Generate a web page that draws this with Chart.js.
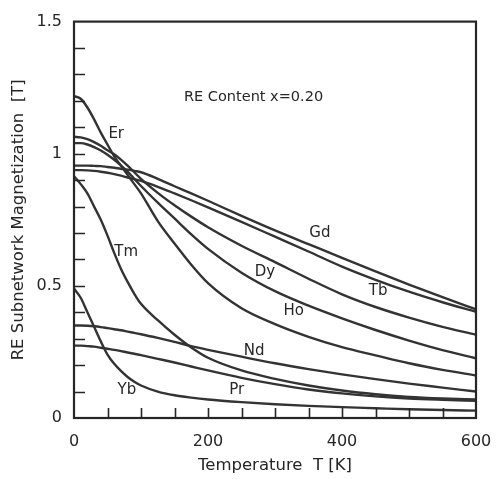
<!DOCTYPE html>
<html>
<head>
<meta charset="utf-8">
<script src="https://cdn.jsdelivr.net/npm/chart.js@4.4.0/dist/chart.umd.min.js"></script>
<style>
  html, body { margin: 0; padding: 0; background: #fff; }
</style>
</head>
<body>
<canvas id="myChart" width="501" height="479"></canvas>
<script>
// temperature grid [K]
var temps = [0, 10, 20, 30, 40, 50, 60, 70, 80, 90, 100, 125, 150, 175, 200, 250, 300, 350, 400, 450, 500, 550, 600];

// RE subnetwork magnetization [T] for each rare earth, x = 0.20
var gd = [0.955, 0.955, 0.955, 0.954, 0.953, 0.950, 0.947, 0.943, 0.940, 0.935, 0.930, 0.905, 0.877, 0.850, 0.822, 0.765, 0.710, 0.658, 0.606, 0.555, 0.505, 0.457, 0.411];
var tb = [0.938, 0.938, 0.937, 0.935, 0.932, 0.928, 0.923, 0.917, 0.910, 0.904, 0.897, 0.875, 0.850, 0.824, 0.797, 0.742, 0.686, 0.630, 0.573, 0.523, 0.478, 0.438, 0.402];
var dy = [1.064, 1.062, 1.055, 1.044, 1.030, 1.013, 0.998, 0.978, 0.955, 0.930, 0.905, 0.852, 0.805, 0.762, 0.722, 0.652, 0.590, 0.527, 0.468, 0.420, 0.380, 0.345, 0.315];
var ho = [1.040, 1.040, 1.035, 1.025, 1.012, 0.996, 0.977, 0.956, 0.932, 0.905, 0.878, 0.815, 0.755, 0.695, 0.640, 0.550, 0.480, 0.425, 0.377, 0.333, 0.293, 0.257, 0.226];
var er = [1.218, 1.208, 1.175, 1.130, 1.080, 1.035, 0.990, 0.955, 0.920, 0.885, 0.850, 0.745, 0.660, 0.580, 0.510, 0.415, 0.355, 0.307, 0.268, 0.237, 0.207, 0.182, 0.161];
var tm = [0.915, 0.885, 0.850, 0.800, 0.750, 0.690, 0.625, 0.565, 0.515, 0.470, 0.432, 0.370, 0.315, 0.267, 0.228, 0.180, 0.148, 0.123, 0.104, 0.090, 0.080, 0.074, 0.070];
var nd = [0.350, 0.350, 0.349, 0.347, 0.344, 0.340, 0.336, 0.332, 0.327, 0.322, 0.317, 0.303, 0.288, 0.272, 0.258, 0.232, 0.207, 0.185, 0.165, 0.147, 0.130, 0.115, 0.100];
var pr = [0.274, 0.274, 0.272, 0.270, 0.266, 0.262, 0.258, 0.253, 0.248, 0.243, 0.238, 0.224, 0.210, 0.195, 0.180, 0.152, 0.128, 0.108, 0.093, 0.082, 0.074, 0.069, 0.065];
var yb = [0.490, 0.455, 0.400, 0.345, 0.290, 0.240, 0.205, 0.178, 0.155, 0.137, 0.123, 0.100, 0.086, 0.077, 0.070, 0.060, 0.052, 0.046, 0.041, 0.037, 0.033, 0.030, 0.028];

var seriesNames = ['Gd', 'Tb', 'Dy', 'Ho', 'Er', 'Tm', 'Nd', 'Pr', 'Yb'];
var seriesValues = [gd, tb, dy, ho, er, tm, nd, pr, yb];

// tick labels
var xTickValues = [0, 200, 400, 600];
var yTickLabels = { 0: '0', 0.5: '0.5', 1: '1', 1.5: '1.5' };

// curve names written next to the curves, placed in (T, M) units
var curveLabels = [
	{ text: 'Er', t: 63, m: 1.076 },
	{ text: 'Gd', t: 367, m: 0.701 },
	{ text: 'Dy', t: 285, m: 0.551 },
	{ text: 'Tb', t: 454, m: 0.480 },
	{ text: 'Tm', t: 78, m: 0.626 },
	{ text: 'Ho', t: 328, m: 0.405 },
	{ text: 'Nd', t: 269, m: 0.255 },
	{ text: 'Pr', t: 243, m: 0.105 },
	{ text: 'Yb', t: 79, m: 0.105 }
];
var contentNote = { text: 'RE Content x=0.20', t: 268, m: 1.213 };

var xMinorStep = 50;
var yMinorStep = 0.1;

var ink = '#262626';
var fontFamily = '"DejaVu Sans", Verdana, sans-serif';

var datasets = [];
for (var i = 0; i < seriesNames.length; i++) {
	var pts = [];
	for (var j = 0; j < temps.length; j++) {
		pts.push({ x: temps[j], y: seriesValues[i][j] });
	}
	datasets.push({
		label: seriesNames[i],
		data: pts,
		borderColor: '#333',
		borderWidth: 2.4,
		pointRadius: 0,
		fill: false,
		cubicInterpolationMode: 'monotone'
	});
}

// frame, inward ticks and curve names
var framePlugin = {
	id: 'frame',
	afterDraw: function(chart) {
		var ctx = chart.ctx;
		var area = chart.chartArea;
		var xs = chart.scales.x;
		var ys = chart.scales.y;
		ctx.save();
		ctx.strokeStyle = ink;
		ctx.lineWidth = 1.6;
		ctx.beginPath();
		for (var t = xMinorStep; t < xs.max; t += xMinorStep) {
			var px = Math.round(xs.getPixelForValue(t)) + 0.5;
			ctx.moveTo(px, area.bottom);
			ctx.lineTo(px, area.bottom - 10);
		}
		for (var k = 1; k * yMinorStep < ys.max - 1e-6; k++) {
			var py = Math.round(ys.getPixelForValue(k * yMinorStep)) + 0.5;
			ctx.moveTo(area.left, py);
			ctx.lineTo(area.left + 11, py);
		}
		ctx.stroke();

		ctx.lineWidth = 2.2;
		ctx.strokeRect(area.left, area.top, area.right - area.left, area.bottom - area.top);

		ctx.fillStyle = ink;
		ctx.textAlign = 'center';
		ctx.textBaseline = 'middle';
		ctx.font = '15px ' + fontFamily;
		curveLabels.forEach(function(l) {
			ctx.fillText(l.text, xs.getPixelForValue(l.t), ys.getPixelForValue(l.m));
		});
		ctx.font = '14.5px ' + fontFamily;
		ctx.fillText(contentNote.text, xs.getPixelForValue(contentNote.t), ys.getPixelForValue(contentNote.m));
		ctx.restore();
	}
};

var ctx = document.getElementById('myChart').getContext('2d');

var myChart = new Chart(ctx, {
	type: 'line',
	data: { datasets: datasets },
	options: {
		responsive: false,
		animation: false,
		devicePixelRatio: 1,
		layout: { padding: { left: 0, right: 25, top: 18, bottom: 0 } },
		plugins: {
			legend: { display: false },
			tooltip: { enabled: false }
		},
		scales: {
			x: {
				type: 'linear',
				min: 0,
				max: 600,
				// invisible tick length only pushes the labels down
				grid: { display: false, drawTicks: true, tickLength: 12 },
				border: { display: false },
				afterBuildTicks: function(scale) {
					scale.ticks = xTickValues.map(function(v) { return { value: v }; });
				},
				ticks: {
					padding: 2,
					color: ink,
					font: { family: fontFamily, size: 16 }
				},
				title: {
					display: true,
					text: 'Temperature  T [K]',
					color: ink,
					font: { family: fontFamily, size: 16.5 },
					padding: { top: 0, bottom: 3 }
				},
				afterFit: function(scale) { scale.height = 61; }
			},
			y: {
				min: 0,
				max: 1.5,
				grid: { display: false, drawTicks: false },
				border: { display: false },
				ticks: {
					stepSize: 0.5,
					padding: 12,
					color: ink,
					font: { family: fontFamily, size: 16 },
					callback: function(value) { return yTickLabels[value]; }
				},
				title: {
					display: true,
					text: 'RE Subnetwork Magnetization  [T]',
					color: ink,
					font: { family: fontFamily, size: 16.5 },
					padding: { top: 9, bottom: 0 }
				},
				afterFit: function(scale) { scale.width = 74; }
			}
		}
	},
	plugins: [framePlugin]
});
</script>
</body>
</html>
